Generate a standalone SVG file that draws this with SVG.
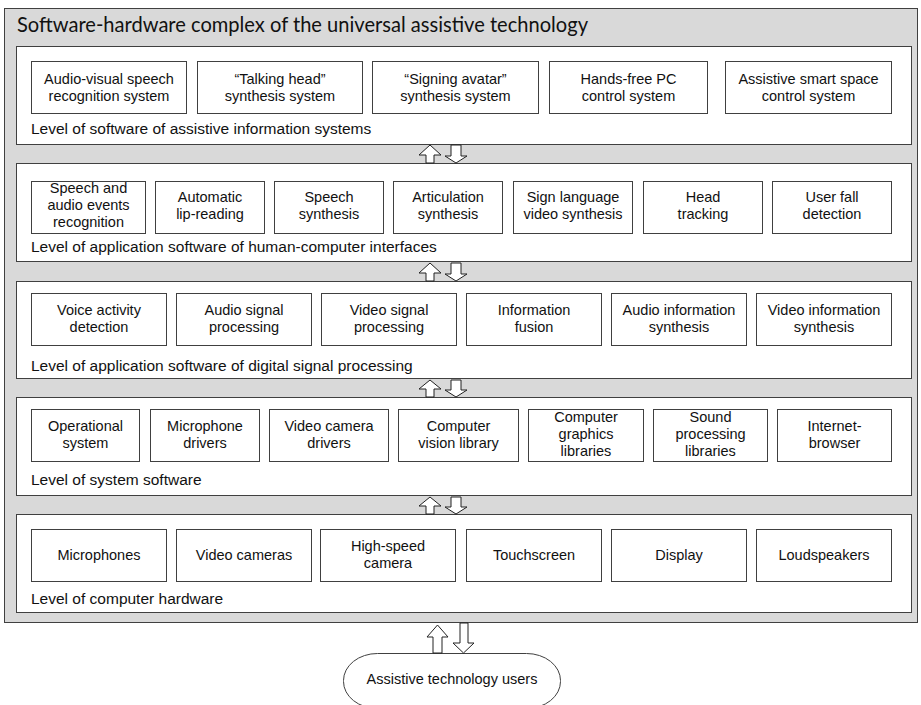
<svg xmlns="http://www.w3.org/2000/svg" width="921" height="705" viewBox="0 0 921 705">
<style>
.outer{fill:#d9d9d9;stroke:#404040;stroke-width:1}
.lvl{fill:#fff;stroke:#404040;stroke-width:1}
.box{fill:#fff;stroke:#404040;stroke-width:1}
.t{font-family:"Liberation Sans",Arial,sans-serif;font-size:14.5px;fill:#111;text-anchor:middle}
.lt{font-family:"Liberation Sans",Arial,sans-serif;font-size:15.5px;fill:#111}
.title{font-family:Lato,"Open Sans",sans-serif;font-size:22px;fill:#111}
.arr{fill:#fff;stroke:#222;stroke-width:1;stroke-linejoin:miter}
</style>
<rect width="921" height="705" fill="#fff"/>
<g id="complex">
<rect class="outer" x="4.5" y="8.5" width="913" height="614"/>
<text class="title" x="17" y="32" textLength="571" lengthAdjust="spacingAndGlyphs">Software-hardware complex of the universal assistive technology</text>
</g>

<g id="level1">
<rect class="lvl" x="16.5" y="46.5" width="895" height="98"/>
<text class="lt" x="31" y="134">Level of software of assistive information systems</text>
</g>
<g id="n1a"><rect class="box" x="31.5" y="61.5" width="155" height="52"/><text class="t" x="109" y="84">Audio-visual speech</text><text class="t" x="109" y="101">recognition system</text></g>
<g id="n1b"><rect class="box" x="197.5" y="61.5" width="165" height="52"/><text class="t" x="280" y="84">“Talking head”</text><text class="t" x="280" y="101">synthesis system</text></g>
<g id="n1c"><rect class="box" x="372.5" y="61.5" width="166" height="52"/><text class="t" x="455.5" y="84">“Signing avatar”</text><text class="t" x="455.5" y="101">synthesis system</text></g>
<g id="n1d"><rect class="box" x="549.5" y="61.5" width="158" height="52"/><text class="t" x="628.5" y="84">Hands-free PC</text><text class="t" x="628.5" y="101">control system</text></g>
<g id="n1e"><rect class="box" x="725.5" y="61.5" width="166" height="52"/><text class="t" x="808.5" y="84">Assistive smart space</text><text class="t" x="808.5" y="101">control system</text></g>

<g id="level2">
<rect class="lvl" x="16.5" y="163.5" width="895" height="98"/>
<text class="lt" x="31" y="252">Level of application software of human-computer interfaces</text>
</g>
<g id="n2a"><rect class="box" x="31.5" y="181.5" width="114" height="52"/><text class="t" x="88.5" y="193">Speech and</text><text class="t" x="88.5" y="210">audio events</text><text class="t" x="88.5" y="227">recognition</text></g>
<g id="n2b"><rect class="box" x="155.5" y="181.5" width="109" height="52"/><text class="t" x="210" y="202">Automatic</text><text class="t" x="210" y="219">lip-reading</text></g>
<g id="n2c"><rect class="box" x="274.5" y="181.5" width="109" height="52"/><text class="t" x="329" y="202">Speech</text><text class="t" x="329" y="219">synthesis</text></g>
<g id="n2d"><rect class="box" x="393.5" y="181.5" width="109" height="52"/><text class="t" x="448" y="202">Articulation</text><text class="t" x="448" y="219">synthesis</text></g>
<g id="n2e"><rect class="box" x="513.5" y="181.5" width="119" height="52"/><text class="t" x="573" y="202">Sign language</text><text class="t" x="573" y="219">video synthesis</text></g>
<g id="n2f"><rect class="box" x="643.5" y="181.5" width="119" height="52"/><text class="t" x="703" y="202">Head</text><text class="t" x="703" y="219">tracking</text></g>
<g id="n2g"><rect class="box" x="772.5" y="181.5" width="119" height="52"/><text class="t" x="832" y="202">User fall</text><text class="t" x="832" y="219">detection</text></g>

<g id="level3">
<rect class="lvl" x="16.5" y="281.5" width="895" height="97"/>
<text class="lt" x="31" y="371">Level of application software of digital signal processing</text>
</g>
<g id="n3a"><rect class="box" x="31.5" y="293.5" width="135" height="52"/><text class="t" x="99" y="315">Voice activity</text><text class="t" x="99" y="332">detection</text></g>
<g id="n3b"><rect class="box" x="176.5" y="293.5" width="135" height="52"/><text class="t" x="244" y="315">Audio signal</text><text class="t" x="244" y="332">processing</text></g>
<g id="n3c"><rect class="box" x="321.5" y="293.5" width="135" height="52"/><text class="t" x="389" y="315">Video signal</text><text class="t" x="389" y="332">processing</text></g>
<g id="n3d"><rect class="box" x="466.5" y="293.5" width="135" height="52"/><text class="t" x="534" y="315">Information</text><text class="t" x="534" y="332">fusion</text></g>
<g id="n3e"><rect class="box" x="611.5" y="293.5" width="135" height="52"/><text class="t" x="679" y="315">Audio information</text><text class="t" x="679" y="332">synthesis</text></g>
<g id="n3f"><rect class="box" x="756.5" y="293.5" width="135" height="52"/><text class="t" x="824" y="315">Video information</text><text class="t" x="824" y="332">synthesis</text></g>

<g id="level4">
<rect class="lvl" x="16.5" y="397.5" width="895" height="98"/>
<text class="lt" x="31" y="485">Level of system software</text>
</g>
<g id="n4a"><rect class="box" x="31.5" y="409.5" width="108" height="52"/><text class="t" x="85.5" y="431">Operational</text><text class="t" x="85.5" y="448">system</text></g>
<g id="n4b"><rect class="box" x="150.5" y="409.5" width="109" height="52"/><text class="t" x="205" y="431">Microphone</text><text class="t" x="205" y="448">drivers</text></g>
<g id="n4c"><rect class="box" x="269.5" y="409.5" width="119" height="52"/><text class="t" x="329" y="431">Video camera</text><text class="t" x="329" y="448">drivers</text></g>
<g id="n4d"><rect class="box" x="398.5" y="409.5" width="120" height="52"/><text class="t" x="458.5" y="431">Computer</text><text class="t" x="458.5" y="448">vision library</text></g>
<g id="n4e"><rect class="box" x="528.5" y="409.5" width="115" height="52"/><text class="t" x="586" y="422">Computer</text><text class="t" x="586" y="439">graphics</text><text class="t" x="586" y="456">libraries</text></g>
<g id="n4f"><rect class="box" x="653.5" y="409.5" width="114" height="52"/><text class="t" x="710.5" y="422">Sound</text><text class="t" x="710.5" y="439">processing</text><text class="t" x="710.5" y="456">libraries</text></g>
<g id="n4g"><rect class="box" x="777.5" y="409.5" width="114" height="52"/><text class="t" x="834.5" y="431">Internet-</text><text class="t" x="834.5" y="448">browser</text></g>

<g id="level5">
<rect class="lvl" x="16.5" y="514.5" width="895" height="98"/>
<text class="lt" x="31" y="604">Level of computer hardware</text>
</g>
<g id="n5a"><rect class="box" x="31.5" y="529.5" width="135" height="52"/><text class="t" x="99" y="560">Microphones</text></g>
<g id="n5b"><rect class="box" x="176.5" y="529.5" width="135" height="52"/><text class="t" x="244" y="560">Video cameras</text></g>
<g id="n5c"><rect class="box" x="320.5" y="529.5" width="135" height="52"/><text class="t" x="388" y="551">High-speed</text><text class="t" x="388" y="568">camera</text></g>
<g id="n5d"><rect class="box" x="466.5" y="529.5" width="135" height="52"/><text class="t" x="534" y="560">Touchscreen</text></g>
<g id="n5e"><rect class="box" x="611.5" y="529.5" width="135" height="52"/><text class="t" x="679" y="560">Display</text></g>
<g id="n5f"><rect class="box" x="756.5" y="529.5" width="135" height="52"/><text class="t" x="824" y="560">Loudspeakers</text></g>

<g id="users">
<rect class="box" x="343.5" y="653.5" width="217" height="55" rx="34" ry="27"/>
<text class="t" x="452" y="684">Assistive technology users</text>
</g>

<g id="connectors">
<polygon class="arr" points="430,145 441,155 434,155 434,163 426,163 426,155 419,155"/>
<polygon class="arr" points="451,145 461,145 461,156 467,156 456,163 445,156 451,156"/>
<polygon class="arr" points="430,263 441,273 434,273 434,281 426,281 426,273 419,273"/>
<polygon class="arr" points="451,263 461,263 461,274 467,274 456,281 445,274 451,274"/>
<polygon class="arr" points="430,380 441,389 434,389 434,397 426,397 426,389 419,389"/>
<polygon class="arr" points="451,380 461,380 461,390 467,390 456,397 445,390 451,390"/>
<polygon class="arr" points="430,497 441,506 434,506 434,514 426,514 426,506 419,506"/>
<polygon class="arr" points="451,497 461,497 461,507 467,507 456,514 445,507 451,507"/>
<polygon class="arr" points="437.5,625 448,637 442,637 442,653 433,653 433,637 427,637"/>
<polygon class="arr" points="460,623 468,623 468,643 474,643 463.5,653 453,643 460,643"/>
</g>
</svg>
